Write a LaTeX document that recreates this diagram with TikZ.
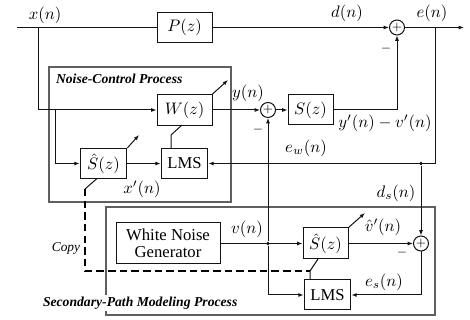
\documentclass[tikz,border=0pt]{standalone}
\usepackage[no-math]{fontspec}
\setmainfont{Liberation Serif}
\usepackage{amsmath}
\usepackage{xcolor}
\usepackage{tikz}
\usetikzlibrary{arrows.meta}
\definecolor{ancGray}{RGB}{95, 95, 95}
\definecolor{ancLine}{RGB}{20, 20, 20}
\tikzset{
    base/.style={
        align=center
    },
    block/.style={
        base,
        rectangle,
        draw=ancLine,
        line width=0.6pt,
        fill=white,
        inner sep=0pt
    },
    summer/.style={
        circle,
        draw=ancLine,
        line width=0.6pt,
        fill=white,
        inner sep=0pt,
        minimum size=9pt,
        font=\scriptsize
    },
    flow/.style={
        -{Latex[length=3.2pt, width=2.4pt]},
        line width=0.6pt,
        color=ancLine
    },
    wire/.style={
        line width=0.6pt,
        color=ancLine
    },
    frame/.style={
        draw=ancGray,
        line width=0.9pt
    },
    copyline/.style={
        line width=1.2pt,
        dash pattern=on 4.5pt off 2.5pt
    },
    title/.style={
        font=\fontsize{8.2}{9}\selectfont\bfseries\itshape,
        anchor=west,
        inner sep=1pt
    },
    sig/.style={
        inner sep=0pt
    },
    sign/.style={
        inner sep=0pt,
        font=\scriptsize
    },
    junction/.style={
        circle,
        fill=ancLine,
        inner sep=0pt,
        minimum size=2.2pt
    }
}

\begin{document}
\begin{tikzpicture}[x=0.6pt, y=-0.6pt]
  \useasboundingbox (0,0) rectangle (470,320);

  % process frames
  \draw[frame] (49,67) rectangle (231,202);
  \draw[frame] (106,207) rectangle (435,315);
  \node[title] (nctitle) at (54,79) {Noise-Control Process};
  \node[title, fill=white] (sptitle) at (41,303) {Secondary-Path Modeling Process};

  % blocks
  \node[block, minimum width=33pt, minimum height=17.5pt] (P) at (184.5,27.5) {$P(z)$};
  \node[block, minimum width=33pt, minimum height=18.5pt] (W) at (184.5,110) {$W(z)$};
  \node[block, minimum width=27pt, minimum height=18pt] (S) at (310.5,110) {$S(z)$};
  \node[block, minimum width=28pt, minimum height=18pt] (Sh1) at (103.5,163.5) {$\hat{S}(z)$};
  \node[block, minimum width=28pt, minimum height=17.5pt] (L1) at (184.5,163.5) {LMS};
  \node[block, minimum width=62.4pt, minimum height=24.6pt] (WNG) at (168,243.5) {White Noise\\[-2pt]Generator};
  \node[block, minimum width=27pt, minimum height=18.6pt] (Sh2) at (325.5,243.5) {$\hat{S}(z)$};
  \node[block, minimum width=28pt, minimum height=18pt] (L2) at (327.5,295) {LMS};

  % sums
  \node[summer] (sumE) at (397,27.5) {$+$};
  \node[summer] (sumY) at (268,110) {$+$};
  \node[summer] (sumD) at (421,243.5) {$+$};

  % taps and corners
  \coordinate (xin) at (17,27.5);
  \coordinate (xtap) at (38,27.5);
  \coordinate (xbr) at (55,110);
  \coordinate (etap) at (435,27.5);
  \coordinate (eout) at (464,27.5);
  \coordinate (ecorner) at (435,163.5);
  \node[junction] (dtap) at (421,163.5) {};
  \node[junction] (vtap) at (268,243.5) {};
  \coordinate (k1) at (171,135);
  \coordinate (wlow) at (182,125);
  \coordinate (k2) at (310,271);
  \coordinate (shlow) at (318,259);
  \coordinate (cp0) at (97,178.5);
  \coordinate (cp1) at (85,189);
  \coordinate (wtip) at (228,80);
  \coordinate (s1tip) at (139,135);
  \coordinate (s2tip) at (365,213);

  % primary path
  \draw[wire] (xin) -- (P);
  \draw[flow] (P) -- (sumE);
  \draw[wire] (sumE) -- (etap);
  \draw[flow] (etap) -- (eout);

  % noise-control process
  \draw[flow] (xtap) |- (W);
  \draw[flow] (xbr) |- (Sh1);
  \draw[flow] (Sh1) -- (L1);
  \draw[flow] (W) -- (sumY);
  \draw[flow] (sumY) -- (S);
  \draw[flow] (S.east) -| (sumE);
  \draw[flow] (etap) -- (ecorner) -- (L1);
  \draw[wire] (k1 |- L1.north) -- (k1) -- (wlow);
  \draw[flow] (W.north east) -- (wtip);
  \draw[flow] (Sh1.north east) -- (s1tip);

  % secondary-path modeling
  \draw[flow] (WNG) -- (Sh2);
  \draw[flow] (vtap) -- (sumY);
  \draw[flow] (vtap) |- (L2);
  \draw[flow] (dtap) -- (sumD);
  \draw[flow] (Sh2) -- (sumD);
  \draw[flow] (sumD) |- (L2);
  \draw[wire] (k2 |- L2.north) -- (k2) -- (shlow);
  \draw[flow] (Sh2.north east) -- (s2tip);

  % copy link
  \draw[wire] (cp0) -- (cp1);
  \draw[copyline] (cp1) |- (k2);

  % signal labels
  \node[sig] (lx) at (45,15) {$x(n)$};
  \node[sig] (ld) at (347,13) {$d(n)$};
  \node[sig] (le) at (432,13) {$e(n)$};
  \node[sig] (ly) at (248,93) {$y(n)$};
  \node[sig] (lyv) at (385,123) {$y'(n)-v'(n)$};
  \node[sig] (lew) at (306,148) {$e_w(n)$};
  \node[sig] (lxp) at (142,189) {$x'(n)$};
  \node[sig] (lds) at (396,193) {$d_s(n)$};
  \node[sig] (lv) at (247,229) {$v(n)$};
  \node[sig] (lvh) at (383,227) {$\hat{v}'(n)$};
  \node[sig] (les) at (384,282) {$e_s(n)$};
  \node[sig, font=\fontsize{8}{9}\selectfont\itshape] (lcopy) at (66,249) {Copy};
  \node[sign] (m1) at (386,49) {$-$};
  \node[sign] (m2) at (258,130) {$-$};
  \node[sign] (m3) at (402,253) {$-$};
\end{tikzpicture}
\end{document}
